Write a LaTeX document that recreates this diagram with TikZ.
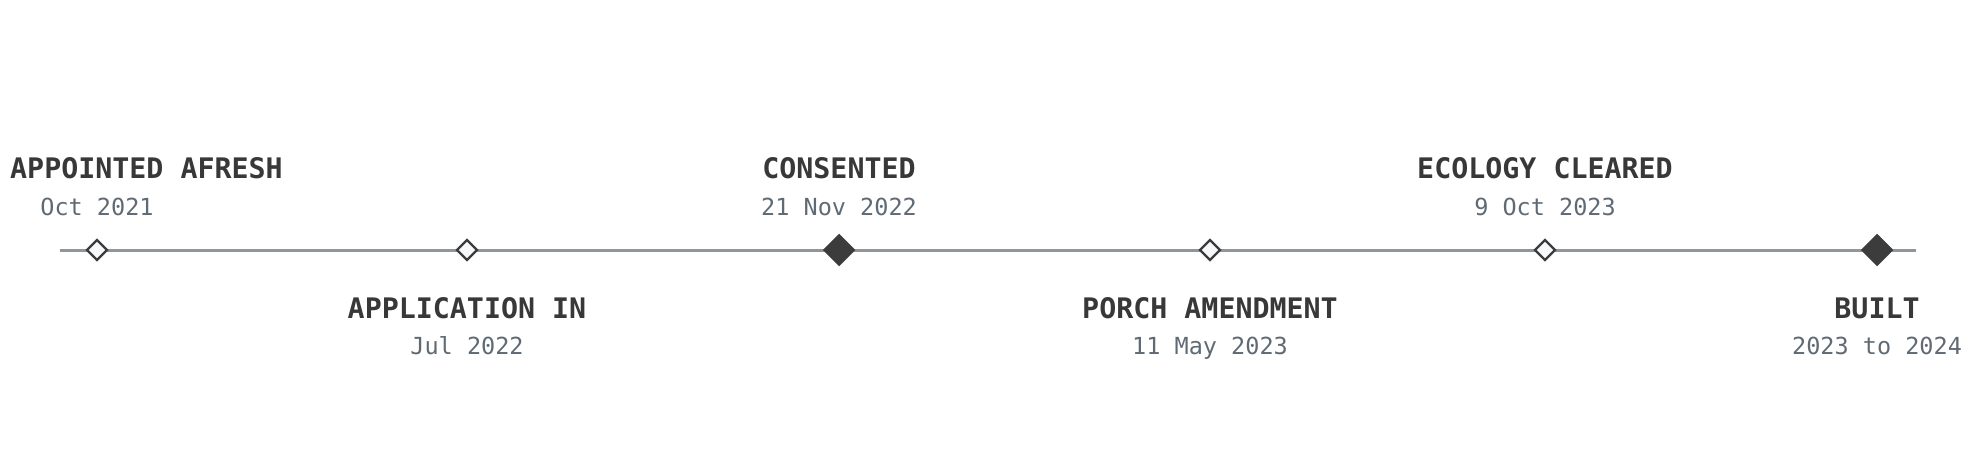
\documentclass[tikz,border=0pt]{standalone}
\usepackage{fontspec}
\newfontfamily\tlmono{DejaVu Sans Mono}
\usetikzlibrary{shapes.geometric}
\definecolor{axisgray}{HTML}{8F979E}
\definecolor{titlecol}{HTML}{383838}
\definecolor{datecol}{HTML}{5F6A74}
\definecolor{markdark}{HTML}{3C3C3C}
\definecolor{markfill}{HTML}{F7F8FA}
\tikzset{
  evtitle/.style={anchor=base, inner sep=0pt, text=titlecol, font=\tlmono\bfseries\fontsize{28.3}{32}\selectfont},
  evdate/.style={anchor=base, inner sep=0pt, text=datecol, font=\tlmono\fontsize{23.5}{28}\selectfont},
  minor/.style={diamond, aspect=1, inner sep=0pt, minimum width=21pt, minimum height=21pt, draw=markdark, fill=markfill, line width=2.4pt},
  major/.style={diamond, aspect=1, inner sep=0pt, minimum width=31pt, minimum height=31pt, draw=markdark, fill=markdark, line width=1.5pt},
  axis/.style={draw=axisgray, line width=3pt}
}
\begin{document}
\begin{tikzpicture}[x=1pt,y=1pt]
\useasboundingbox (0,0) rectangle (1975,475);
\coordinate (L) at (60,225);
\coordinate (R) at (1916,225);
\draw[axis] (L) -- (R);
\node[minor] (m1) at (97,225) {};
\node[minor] (m2) at (467,225) {};
\node[major] (m3) at (839,225) {};
\node[minor] (m4) at (1210,225) {};
\node[minor] (m5) at (1545,225) {};
\node[major] (m6) at (1877,225) {};
% above labels
\node[evtitle, anchor=base west] (t1) at (10,297) {APPOINTED AFRESH};
\node[evdate] (d1) at (97,259.5) {Oct 2021};
\node[evtitle] (t3) at (839,297) {CONSENTED};
\node[evdate] (d3) at (839,259.5) {21 Nov 2022};
\node[evtitle] (t5) at (1545,297) {ECOLOGY CLEARED};
\node[evdate] (d5) at (1545,259.5) {9 Oct 2023};
% below labels
\node[evtitle] (t2) at (467,157) {APPLICATION IN};
\node[evdate] (d2) at (467,120.5) {Jul 2022};
\node[evtitle] (t4) at (1210,157) {PORCH AMENDMENT};
\node[evdate] (d4) at (1210,120.5) {11 May 2023};
\node[evtitle] (t6) at (1877,157) {BUILT};
\node[evdate] (d6) at (1877,120.5) {2023 to 2024};
\end{tikzpicture}
\end{document}
